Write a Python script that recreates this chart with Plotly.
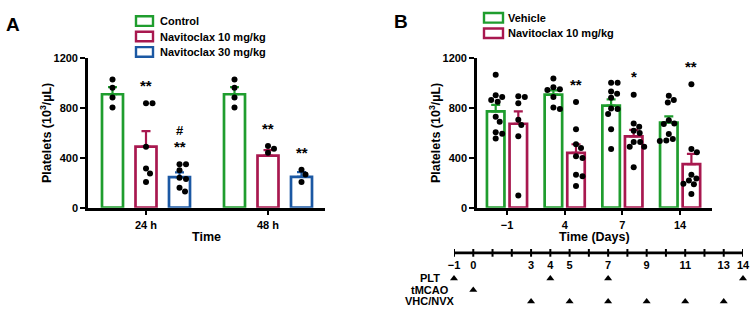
import plotly.graph_objects as go

W, H = 756, 320
FONT = "Arial, Liberation Sans, Helvetica, sans-serif"

# ---------------- Panel A data ----------------
a_groups = ["24 h", "48 h"]
a_series = ["Control", "Navitoclax 10 mg/kg", "Navitoclax 30 mg/kg"]
a_ctrl_mean = [912, 912]
a_ctrl_sem = [57, 57]
a_ctrl_pts = [[1030, 965, 885, 805], [1030, 965, 885, 805]]
a_nav10_mean = [491, 419]
a_nav10_sem = [124, 44]
a_nav10_pts = [[840, 840, 490, 315, 275, 207], [496, 474, 442]]
a_nav30_mean = [246, 248]
a_nav30_sem = [38, 37]
a_nav30_pts = [[350, 350, 300, 240, 230, 160, 130], [305, 266, 207]]
a_nav10_sig = ["**", "**"]
a_nav30_sig = ["**", "**"]
a_nav30_sig2 = ["#", ""]

# ---------------- Panel B data ----------------
b_days = ["\u22121", "4", "7", "14"]
b_series = ["Vehicle", "Navitoclax 10 mg/kg"]
b_veh_mean = [775, 909, 820, 685]
b_veh_sem = [52, 34, 51, 49]
b_veh_pts = [
    [1069, 904, 889, 866, 852, 731, 690, 607, 595, 556],
    [1038, 968, 953, 947, 889, 806, 793],
    [1005, 1005, 935, 917, 883, 798, 793, 754, 631, 471],
    [901, 866, 845, 703, 677, 672, 592, 553, 541, 536],
]
b_nav_mean = [675, 440, 574, 350]
b_nav_sem = [100, 70, 52, 83]
b_nav_pts = [
    [896, 891, 839, 708, 664, 574, 97],
    [850, 631, 510, 479, 414, 399, 265, 252, 175],
    [909, 677, 651, 618, 600, 528, 528, 489, 489, 325],
    [992, 471, 445, 265, 234, 219, 193, 188, 110],
]
b_nav_sig = ["", "**", "*", "**"]

# ---------------- Timeline data ----------------
tl_days = list(range(-1, 15))
tl_label_days = [-1, 0, 3, 4, 5, 7, 9, 11, 13, 14]
tl_rows = ["PLT", "tMCAO", "VHC/NVX"]
tl_plt_days = [-1, 4, 7, 14]
tl_tmcao_days = [0]
tl_vhc_days = [3, 5, 7, 9, 11, 13]

# ---------------- Styles / geometry ----------------
GREEN = "#1f9d2e"
CRIMSON = "#a8184f"
BLUE = "#1b58a3"

Y_BOT, Y_TOP = 209.5, 54.5          # pixel rows of 0 and 1200
PX_PER_UNIT_Y = (Y_BOT - Y_TOP) / 1200.0

A_X0, A_X1 = 88, 325
A_C0, A_STEP = 146, 122.0
B_X0, B_X1 = 477, 712
B_C0, B_STEP = 507, 57.7
TL_TOP = 245  # pixel row where timeline area starts


def px(x):
    return x / W


def py(y):
    return 1 - y / H


def swarm(vals, diam=6.4):
    order = sorted(range(len(vals)), key=lambda i: -vals[i])
    placed = []
    offs = [0.0] * len(vals)
    cands = [0.0]
    for k in range(1, 60):
        cands += [k * 0.5, -k * 0.5]
    for i in order:
        yv = vals[i] * PX_PER_UNIT_Y
        for c in cands:
            if all((c - p[0]) ** 2 + (yv - p[1]) ** 2 >= diam ** 2 for p in placed):
                offs[i] = c
                placed.append((c, yv))
                break
    return offs


fig = go.Figure()


def add_group(means, sems, color, offset_px, width_px, step, xa, ya):
    n = len(means)
    xs = [i + offset_px / step for i in range(n)]
    fig.add_trace(go.Bar(
        x=xs, y=means, width=[width_px / step] * n,
        marker=dict(color="white", line=dict(color=color, width=2.7)),
        error_y=dict(type="data", array=sems, arrayminus=[0] * n, symmetric=False,
                     color=color, thickness=2.2, width=4.5),
        xaxis=xa, yaxis=ya, showlegend=False, hoverinfo="skip"))
    return xs


def add_points(xs, pts, step, xa, ya):
    dx, dy = [], []
    for xc, vals in zip(xs, pts):
        offs = swarm(vals)
        dx += [xc + o / step for o in offs]
        dy += vals
    fig.add_trace(go.Scatter(
        x=dx, y=dy, mode="markers",
        marker=dict(color="black", size=6, line=dict(width=0)),
        xaxis=xa, yaxis=ya, showlegend=False, hoverinfo="skip"))


# Panel A bars
a_off = [-33.5, 0.0, 33.5]
a_specs = [
    (a_ctrl_mean, a_ctrl_sem, a_ctrl_pts, GREEN),
    (a_nav10_mean, a_nav10_sem, a_nav10_pts, CRIMSON),
    (a_nav30_mean, a_nav30_sem, a_nav30_pts, BLUE),
]
a_xs = []
for (m, s, p, c), o in zip(a_specs, a_off):
    a_xs.append(add_group(m, s, c, o, 21, A_STEP, "x", "y"))
for (m, s, p, c), xs in zip(a_specs, a_xs):
    add_points(xs, p, A_STEP, "x", "y")

# Panel B bars
b_off = [-11.3, 11.3]
b_specs = [
    (b_veh_mean, b_veh_sem, b_veh_pts, GREEN),
    (b_nav_mean, b_nav_sem, b_nav_pts, CRIMSON),
]
b_xs = []
for (m, s, p, c), o in zip(b_specs, b_off):
    b_xs.append(add_group(m, s, c, o, 17.5, B_STEP, "x2", "y2"))
for (m, s, p, c), xs in zip(b_specs, b_xs):
    add_points(xs, p, B_STEP, "x2", "y2")

annotations = []
SIG_GAP = 150


def star(x, y, txt, xref, yref, size=15):
    annotations.append(dict(x=x, y=y, xref=xref, yref=yref, text=txt, showarrow=False,
                            xanchor="center", yanchor="middle", yshift=-1,
                            font=dict(family=FONT, size=size, color="black", weight="bold")))


for i in range(len(a_groups)):
    if a_nav10_sig[i]:
        star(a_xs[1][i], max(a_nav10_pts[i]) + SIG_GAP, a_nav10_sig[i], "x", "y")
    if a_nav30_sig[i]:
        star(a_xs[2][i], max(a_nav30_pts[i]) + SIG_GAP, a_nav30_sig[i], "x", "y")
    if a_nav30_sig2[i]:
        annotations.append(dict(x=a_xs[2][i], y=max(a_nav30_pts[i]) + SIG_GAP + 124, xref="x", yref="y",
                                text=a_nav30_sig2[i], showarrow=False, xanchor="center", yanchor="middle",
                                font=dict(family=FONT, size=13, color="black", weight="bold")))
for i in range(len(b_days)):
    if b_nav_sig[i]:
        star(b_xs[1][i], max(b_nav_pts[i]) + SIG_GAP, b_nav_sig[i], "x2", "y2")

# ---------------- Timeline ----------------
TL_Y = 256.5
fig.add_trace(go.Scatter(x=[tl_days[0], tl_days[-1]], y=[TL_Y, TL_Y], mode="lines",
                         line=dict(color="black", width=2.6), xaxis="x3", yaxis="y3",
                         showlegend=False, hoverinfo="skip", cliponaxis=False))
tx, ty = [], []
for d in tl_days:
    tx += [d, d, None]
    ty += [TL_Y - 4, TL_Y + 4, None]
fig.add_trace(go.Scatter(x=tx, y=ty, mode="lines", line=dict(color="black", width=2),
                         xaxis="x3", yaxis="y3", showlegend=False, hoverinfo="skip", cliponaxis=False))
fig.add_trace(go.Scatter(x=tl_label_days, y=[270] * len(tl_label_days), mode="text",
                         text=[("\u2212" + str(-d)) if d < 0 else str(d) for d in tl_label_days],
                         textfont=dict(family=FONT, size=11, color="black", weight="bold"),
                         xaxis="x3", yaxis="y3", showlegend=False, hoverinfo="skip", cliponaxis=False))
row_y = [283, 295, 307]
for days, yy in zip([tl_plt_days, tl_tmcao_days, tl_vhc_days], row_y):
    fig.add_trace(go.Scatter(x=days, y=[yy] * len(days), mode="markers",
                             marker=dict(symbol="triangle-up", size=7, color="black", line=dict(width=0)),
                             xaxis="x3", yaxis="y3", showlegend=False, hoverinfo="skip", cliponaxis=False))
for name, yy in zip(tl_rows, row_y):
    annotations.append(dict(x=px(430), y=py(yy), xref="paper", yref="paper", text=name,
                            showarrow=False, xanchor="center", yanchor="middle",
                            font=dict(family=FONT, size=11, color="black", weight="bold")))

# ---------------- Legends (manual) ----------------
shapes = []


def legend(entries, colors, x_box, box_w, ys, x_text):
    for name, col, yy in zip(entries, colors, ys):
        shapes.append(dict(type="rect", xref="paper", yref="paper",
                           x0=px(x_box), x1=px(x_box + box_w), y0=py(yy + 5), y1=py(yy - 5),
                           line=dict(color=col, width=2.4), fillcolor="white"))
        annotations.append(dict(x=px(x_text), y=py(yy), xref="paper", yref="paper", text=name,
                                showarrow=False, xanchor="left", yanchor="middle",
                                font=dict(family=FONT, size=11, color="black", weight="bold")))


legend(a_series, [GREEN, CRIMSON, BLUE], 136, 17, [15.7, 31.7, 47.7], 158)
legend(b_series, [GREEN, CRIMSON], 484, 19, [12.3, 28.3], 506)

# ---------------- Titles and panel letters ----------------
YT = "Platelets (10<sup>3</sup>/\u00b5L)"
for xx in (46, 435):
    annotations.append(dict(x=px(xx), y=py((Y_BOT + Y_TOP) / 2), xref="paper", yref="paper",
                            text=YT, textangle=-90, showarrow=False, xanchor="center", yanchor="middle",
                            font=dict(family=FONT, size=12.5, color="black", weight="bold")))
for txt, xx, yy, sz in [("Time", 206, 240, 12.5), ("Time (Days)", 594, 240, 12.5),
                        ("A", 13, 19.5, 19), ("B", 401, 16.5, 19)]:
    annotations.append(dict(x=px(xx), y=py(yy), xref="paper", yref="paper", text=txt, showarrow=False,
                            xanchor="center", yanchor="middle",
                            font=dict(family=FONT, size=sz, color="black", weight="bold")))

TICKFONT = dict(family=FONT, size=11, color="black", weight="bold")
axis_common = dict(showline=True, linecolor="black", linewidth=2.6, ticks="outside", ticklen=5,
                   tickwidth=2.2, tickcolor="black", showgrid=False, zeroline=False,
                   tickfont=TICKFONT, fixedrange=True)
ydom = [py(Y_BOT), py(Y_TOP)]

fig.update_layout(
    width=W, height=H, autosize=False, margin=dict(l=0, r=0, t=0, b=0),
    paper_bgcolor="white", plot_bgcolor="rgba(0,0,0,0)", showlegend=False, barmode="overlay",
    xaxis=dict(domain=[px(A_X0), px(A_X1)],
               range=[(A_X0 - A_C0) / A_STEP, (A_X1 - A_C0) / A_STEP],
               tickvals=list(range(len(a_groups))), ticktext=a_groups, anchor="y", **axis_common),
    yaxis=dict(domain=ydom, range=[0, 1200], tickvals=[0, 400, 800, 1200], anchor="x", **axis_common),
    xaxis2=dict(domain=[px(B_X0), px(B_X1)],
                range=[(B_X0 - B_C0) / B_STEP, (B_X1 - B_C0) / B_STEP],
                tickvals=list(range(len(b_days))), ticktext=b_days, anchor="y2", **axis_common),
    yaxis2=dict(domain=ydom, range=[0, 1200], tickvals=[0, 400, 800, 1200], anchor="x2", **axis_common),
    xaxis3=dict(domain=[px(454), px(743)], range=[-1, 14], visible=False, anchor="y3", fixedrange=True),
    yaxis3=dict(domain=[0, py(TL_TOP)], range=[H, TL_TOP], visible=False, anchor="x3", fixedrange=True),
    annotations=annotations, shapes=shapes,
)

fig.write_html("out.html")
